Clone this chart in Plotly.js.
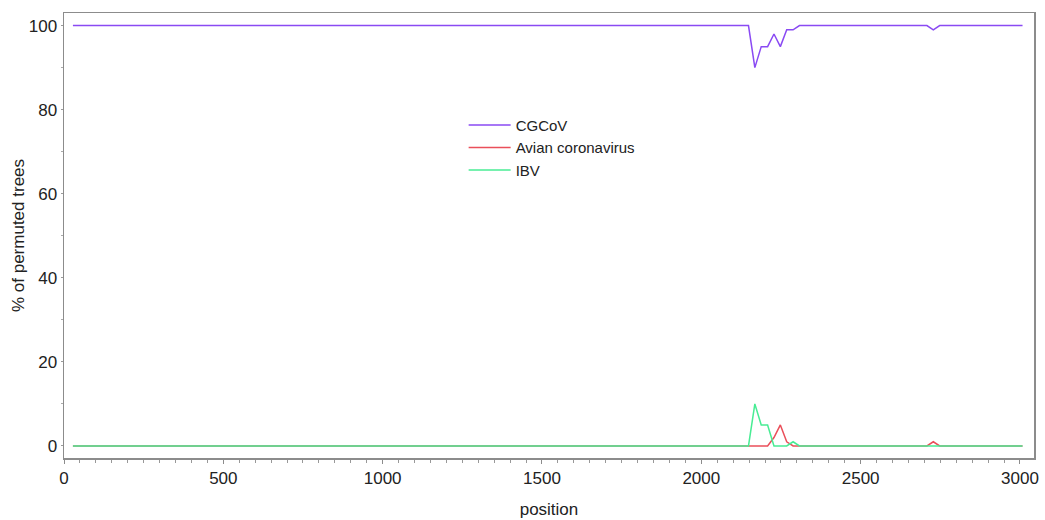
<!DOCTYPE html>
<html>
<head>
<meta charset="utf-8">
<script src="https://cdn.plot.ly/plotly-3.0.1.min.js"></script>
<style>html,body{margin:0;padding:0;background:#fff;}#chart{width:1045px;height:520px;}</style>
</head>
<body>
<div id="chart"></div>
<script>
// positions where the curves change slope (straight segments between them)
const positions = [28, 2148, 2168, 2188, 2208, 2228, 2248, 2268, 2288, 2308, 2708, 2728, 2748, 3008];
const cgcov    = [100, 100, 90, 95, 95, 98, 95, 99, 99, 100, 100, 99, 100, 100];
const avianCoV = [0, 0, 0, 0, 0, 2, 5, 1, 0, 0, 0, 1, 0, 0];
const ibv      = [0, 0, 10, 5, 5, 0, 0, 0, 1, 0, 0, 0, 0, 0];
const seriesNames = ["CGCoV", "Avian coronavirus", "IBV"];
const xTicks = [0, 500, 1000, 1500, 2000, 2500, 3000];
const yTicks = [0, 20, 40, 60, 80, 100];

const colors = ["#8a4af3", "#ea4f5a", "#48ec94"];
const vals = [cgcov, avianCoV, ibv];
const traces = vals.map((v, i) => ({
  x: positions, y: v, type: "scatter", mode: "lines", name: seriesNames[i],
  line: {color: colors[i], width: 1.5}
}));

const fam = "Liberation Sans, Arial, sans-serif";
const font = {family: fam, size: 17, color: "#222"};
const layout = {
  width: 1045, height: 520,
  margin: {l: 64, r: 11, t: 13, b: 62},
  paper_bgcolor: "#fff", plot_bgcolor: "#fff",
  font: font,
  showlegend: true,
  legend: {x: 0.412, y: 0.785, xanchor: "left", yanchor: "top", bgcolor: "rgba(0,0,0,0)",
           font: {family: fam, size: 15, color: "#222"},
           tracegroupgap: 0, itemwidth: 42},
  xaxis: {range: [0, 3044], tickvals: xTicks, ticktext: xTicks.map(String),
          showgrid: false, zeroline: false, showline: true, mirror: true,
          linecolor: "#8c8c8c", linewidth: 1.5, ticks: "outside", ticklen: 4, tickcolor: "#8c8c8c",
          minor: {dtick: 50, ticks: "outside", ticklen: 3, tickcolor: "#999"},
          tickfont: font,
          title: {text: "position", font: {family: fam, size: 17, color: "#222"}, standoff: 16}},
  yaxis: {range: [-2.86, 103.0], tickvals: yTicks, ticktext: yTicks.map(String),
          showgrid: false, zeroline: false, showline: true, mirror: true,
          linecolor: "#8c8c8c", linewidth: 1.5, ticks: "outside", ticklen: 2, tickcolor: "#999",
          minor: {dtick: 10, ticks: "outside", ticklen: 2, tickcolor: "#aaa"},
          tickfont: font,
          title: {text: "% of permuted trees", font: {family: fam, size: 17, color: "#222"}, standoff: 0}}
};
Plotly.newPlot("chart", traces, layout, {displayModeBar: false, staticPlot: true});
</script>
</body>
</html>
